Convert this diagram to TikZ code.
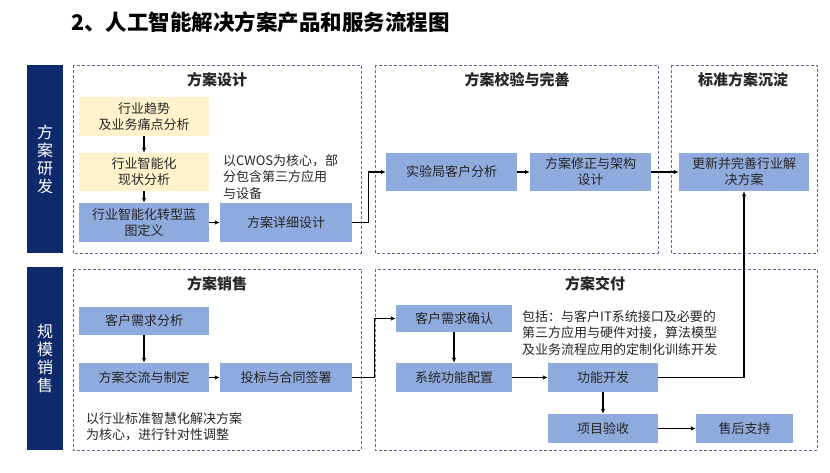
\documentclass[tikz,border=0pt]{standalone}
\usepackage{fontspec}
\newfontfamily\cjk{Noto Sans CJK SC}
\usetikzlibrary{arrows.meta}
\definecolor{navy}{HTML}{0E2A6B}
\definecolor{boxblue}{HTML}{8FAADC}
\definecolor{boxyellow}{HTML}{FFF2CC}
\definecolor{dashcol}{HTML}{5B6B9B}
\definecolor{txt}{HTML}{262626}
\tikzset{
  bluebox/.style={draw=none,fill=boxblue,inner sep=0pt,align=center,text=txt,font=\cjk\fontsize{13}{16}\selectfont},
  yellowbox/.style={bluebox,fill=boxyellow},
  dashbox/.style={draw=dashcol,line width=0.9pt,dash pattern=on 3pt off 2pt},
  sectitle/.style={font=\cjk\bfseries\fontsize{15}{18}\selectfont,text=txt,inner sep=0pt},
  note/.style={font=\cjk\fontsize{13}{16.5}\selectfont,text=txt,align=left,anchor=west,inner sep=0pt},
  sidebar/.style={fill=navy,inner sep=0pt,text=white,align=center,font=\cjk\fontsize{16}{18}\selectfont},
  arr/.style={line width=1.1pt,-{Latex[length=5pt,width=4.5pt]}},
  line/.style={line width=1.1pt}
}
\begin{document}
\begin{tikzpicture}[x=1pt,y=-1pt]
\useasboundingbox[fill=white] (0,0) rectangle (830,473);
% main title
\node[anchor=west,inner sep=0pt,font=\cjk\bfseries\fontsize{21.5}{24}\selectfont] (title) at (71,22) {2、人工智能解决方案产品和服务流程图};
% side bars
\node[sidebar,minimum width=36pt,minimum height=188pt] (rd) at (45,159) {方\\案\\研\\发};
\node[sidebar,minimum width=36pt,minimum height=183pt] (sale) at (45,358.5) {规\\模\\销\\售};
% dashed boxes
\draw[dashbox] (73,65) rectangle (361,253);
\draw[dashbox] (375,65) rectangle (658,253);
\draw[dashbox] (671,65) rectangle (817,253);
\draw[dashbox] (73,269) rectangle (361,450);
\draw[dashbox] (375,269) rectangle (817,450);
% section titles
\node[sectitle] (t1) at (217,80) {方案设计};
\node[sectitle] (t2) at (517,80) {方案校验与完善};
\node[sectitle] (t3) at (743,80) {标准方案沉淀};
\node[sectitle] (t4) at (217,284) {方案销售};
\node[sectitle] (t5) at (595,284) {方案交付};
% boxes top
\node[yellowbox,minimum width=130pt,minimum height=39pt] (a1) at (144,116.5) {行业趋势\\及业务痛点分析};
\node[yellowbox,minimum width=130pt,minimum height=38pt] (a2) at (144,172) {行业智能化\\现状分析};
\node[bluebox,minimum width=130pt,minimum height=39pt] (a3) at (144,222.5) {行业智能化转型蓝\\图定义};
\node[bluebox,minimum width=132pt,minimum height=39pt] (a4) at (286,222.5) {方案详细设计};
\node[bluebox,minimum width=131pt,minimum height=38pt] (b1) at (451.5,172) {实验局客户分析};
\node[bluebox,minimum width=121pt,minimum height=38pt] (b2) at (590.5,172) {方案修正与架构\\设计};
\node[bluebox,minimum width=130pt,minimum height=38pt] (c1) at (744,172) {更新并完善行业解\\决方案};
% boxes bottom
\node[bluebox,minimum width=130pt,minimum height=28pt] (d1) at (144,321) {客户需求分析};
\node[bluebox,minimum width=130pt,minimum height=29pt] (d2) at (144,377.5) {方案交流与制定};
\node[bluebox,minimum width=132pt,minimum height=29pt] (d3) at (286,377.5) {投标与合同签署};
\node[bluebox,minimum width=116pt,minimum height=27pt] (e1) at (454,318.5) {客户需求确认};
\node[bluebox,minimum width=116pt,minimum height=29pt] (e2) at (454,377.5) {系统功能配置};
\node[bluebox,minimum width=110pt,minimum height=29pt] (e3) at (603,377.5) {功能开发};
\node[bluebox,minimum width=110pt,minimum height=29pt] (e4) at (603,428.5) {项目验收};
\node[bluebox,minimum width=97pt,minimum height=29pt] (e5) at (744.5,428.5) {售后支持};
% notes
\node[note] (n1) at (223,177) {以CWOS为核心，部\\分包含第三方应用\\与设备};
\node[note] (n2) at (86,426.5) {以行业标准智慧化解决方案\\为核心，进行针对性调整};
\node[note] (n3) at (522,333) {包括：与客户IT系统接口及必要的\\第三方应用与硬件对接，算法模型\\及业务流程应用的定制化训练开发};
% connectors
\draw[arr] (a1) -- (a2);
\draw[arr] (a2) -- (a3);
\draw[arr] (a3) -- (a4);
\draw[arr] (a4.east) -- ++(16,0) |- (b1.west);
\draw[arr] (b1) -- (b2);
\draw[arr] (b2) -- (c1);
\draw[arr] (d1) -- (d2);
\draw[arr] (d2) -- (d3);
\draw[arr] (d3.east) -- ++(22,0) |- (e1.west);
\draw[arr] (e1) -- (e2);
\draw[arr] (e2) -- (e3);
\draw[arr] (e3) -- (e4);
\draw[arr] (e4) -- (e5);
\draw[arr] (e3.east) -| (c1.south);
\end{tikzpicture}
\end{document}
